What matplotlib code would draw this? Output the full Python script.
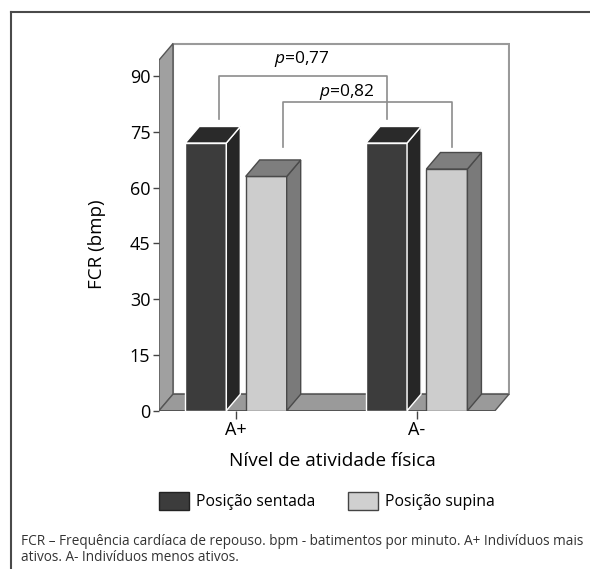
import numpy as np
import matplotlib.pyplot as plt
from matplotlib.patches import Polygon, Patch
from matplotlib.lines import Line2D

plt.rcParams['font.family'] = ['Open Sans', 'DejaVu Sans']
plt.rcParams['mathtext.fontset'] = 'custom'
plt.rcParams['mathtext.rm'] = 'Open Sans'
plt.rcParams['mathtext.it'] = 'Open Sans:italic'

# dados
categorias = ['A+', 'A-']
sentada = [72, 72]
supina = [63, 65]
series = ['Posição sentada', 'Posição supina']
yticks = [0, 15, 30, 45, 60, 75, 90]
p_valores = ['0,77', '0,82']

W, H = 590, 569
fig = plt.figure(figsize=(W / 100, H / 100), dpi=100)
ax = fig.add_axes([159 / W, (H - 410.7) / H, 351 / W, (410.7 - 40) / H])
ax.set_xlim(-0.426, 1.516)
ax.set_ylim(0, 99.7)

dx, dy = 0.0775, 4.44      # profundidade do efeito 3D
x0, x1 = -0.426, 1.433     # frente do piso
topo = 94.3                # altura das paredes
larg = 0.227               # largura das barras
desl = 0.167               # deslocamento de cada serie

# parede do fundo, parede esquerda e piso
ax.add_patch(Polygon([(x0 + dx, dy), (x1 + dx, dy), (x1 + dx, topo + dy), (x0 + dx, topo + dy)],
                     closed=True, fc='white', ec='#9a9a9a', lw=1.5))
ax.add_patch(Polygon([(x0, 0), (x0 + dx, dy), (x0 + dx, topo + dy), (x0, topo)],
                     closed=True, fc='#a0a0a0', ec='#555555', lw=1))
ax.add_patch(Polygon([(x0, 0), (x1, 0), (x1 + dx, dy), (x0 + dx, dy)],
                     closed=True, fc='#9a9a9a', ec='#555555', lw=1))


def barra3d(xc, h, frente, lado, cima, borda):
    xl, xr = xc - larg / 2, xc + larg / 2
    ax.add_patch(Polygon([(xl, 0), (xr, 0), (xr, h), (xl, h)], closed=True, fc=frente, ec=borda, lw=1))
    ax.add_patch(Polygon([(xr, 0), (xr + dx, dy), (xr + dx, h + dy), (xr, h)], closed=True, fc=lado, ec=borda, lw=1))
    ax.add_patch(Polygon([(xl, h), (xr, h), (xr + dx, h + dy), (xl + dx, h + dy)], closed=True, fc=cima, ec=borda, lw=1))


for i in range(len(categorias)):
    barra3d(i - desl, sentada[i], '#3c3c3c', '#262626', '#2a2a2a', 'white')
    barra3d(i + desl, supina[i], '#cdcdcd', '#7a7a7a', '#7e7e7e', '#4a4a4a')

# comparacoes
ax.plot([-0.092, -0.092, 0.837, 0.837], [78.4, 90, 90, 78.4], color='#8c8c8c', lw=1.2)
ax.plot([0.262, 0.262, 1.194, 1.194], [70.8, 83.1, 83.1, 70.8], color='#8c8c8c', lw=1.2)
ax.text(0.364, 94.5, '$p$=' + p_valores[0], ha='center', va='center', fontsize=12.5)
ax.text(0.613, 85.8, '$p$=' + p_valores[1], ha='center', va='center', fontsize=12.5)

for s in ax.spines.values():
    s.set_visible(False)
ax.patch.set_visible(False)

ax.set_yticks(yticks)
ax.set_xticks(range(len(categorias)), categorias)
ax.tick_params(axis='y', length=4.3, width=1, color='#444444', pad=2, labelsize=13)
ax.tick_params(axis='x', length=5.5, width=1, color='#444444', pad=2, labelsize=13)

ax.set_ylabel('FCR (bmp)', fontsize=13.5)
ax.yaxis.label.set_va('center')
ax.yaxis.set_label_coords((97 - 159) / 351, (410.7 - 244) / 370.7)
ax.set_xlabel('Nível de atividade física', fontsize=13.7)
ax.xaxis.label.set_va('center')
ax.xaxis.set_label_coords((332 - 159) / 351, (410.7 - 461) / 370.7)

fig.legend(handles=[Patch(fc='#3c3c3c', ec='#222222'), Patch(fc='#d0d0d0', ec='#444444')],
           labels=series, loc='center', bbox_to_anchor=(327 / W, 1 - 500.8 / H), ncol=2,
           frameon=False, fontsize=11.3, handlelength=1.91, handleheight=1.38,
           handletextpad=0.47, columnspacing=2.06)

fig.text(21 / W, 1 - 545 / H,
         'FCR – Frequência cardíaca de repouso. bpm - batimentos por minuto. A+ Indivíduos mais',
         ha='left', va='baseline', fontsize=9.8, color='#333333')
fig.text(21 / W, 1 - 561 / H, 'ativos. A- Indivíduos menos ativos.',
         ha='left', va='baseline', fontsize=9.8, color='#333333')

# moldura
fig.add_artist(Line2D([11 / W, 1], [1 - 12 / H, 1 - 12 / H], color='#4a4a4a', lw=1.5))
fig.add_artist(Line2D([11 / W, 11 / W], [1 - 12 / H, 0], color='#4a4a4a', lw=1.5))

fig.savefig('out.png', dpi=100)
